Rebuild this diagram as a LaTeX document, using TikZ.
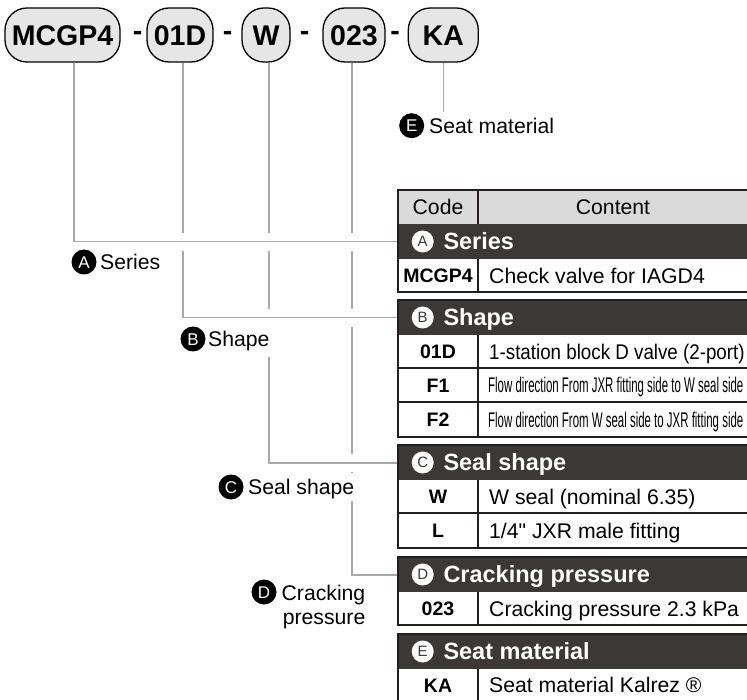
\documentclass[tikz,border=0pt]{standalone}
\usepackage{fontspec}
\setmainfont{Liberation Sans}
\newfontfamily\qfont{Liberation Sans}[Ligatures=TeXOff]
\usetikzlibrary{backgrounds}
\definecolor{connc}{HTML}{A8A8A8}
\definecolor{pillc}{HTML}{E6E6E6}
\definecolor{hdrc}{HTML}{3C3838}
\definecolor{codec}{HTML}{DADADA}
\definecolor{bordc}{HTML}{231F20}
\tikzset{
  pill/.style={draw=black, line width=1.3pt, fill=pillc, rounded corners=22pt, minimum height=54pt, inner sep=0pt, font=\fontsize{28.5}{28.5}\selectfont\bfseries, text height=20.4pt, text depth=0pt},
  sepmark/.style={inner sep=0pt, font=\fontsize{28.5}{28.5}\selectfont\bfseries, anchor=base},
  conn/.style={draw=connc, line width=1.6pt},
  halo/.style={preaction={draw=white, line width=18pt}},
  lcirc/.style={circle, fill=black, text=white, inner sep=0pt, minimum size=25pt, font=\fontsize{17}{17}\selectfont, text height=12.2pt, text depth=0pt},
  ltext/.style={inner sep=0pt, anchor=west, font=\fontsize{21.2}{24}\selectfont, text height=15.2pt, text depth=0pt},
  hcirc/.style={circle, fill=white, text=hdrc, inner sep=0pt, minimum size=22pt, font=\fontsize{15}{15}\selectfont, text height=10.7pt, text depth=0pt},
  htext/.style={inner sep=0pt, anchor=west, text=white, font=\fontsize{23.5}{23.5}\selectfont\bfseries, text height=16.8pt, text depth=0pt},
  ctext/.style={inner sep=0pt, font=\fontsize{19.5}{19.5}\selectfont\bfseries, text height=14pt, text depth=0pt},
  btext/.style={inner sep=0pt, anchor=west, font=\fontsize{21.2}{21.2}\selectfont, text height=15.2pt, text depth=0pt},
  hband/.style={fill=hdrc, inner sep=0pt, minimum width=352pt, minimum height=35pt, anchor=north west},
  outer/.style={draw=bordc, line width=2.5pt},
  rowrule/.style={draw=bordc, line width=1.2pt},
}
\begin{document}
\begin{tikzpicture}[x=1pt,y=-1pt]
\useasboundingbox (0,0) rectangle (747,700);
\clip (0,0) rectangle (747,700);

% ---------- code pills ----------
\node[pill, minimum width=115pt] (p1) at (62.5,35) {MCGP4};
\node[pill, minimum width=66pt]  (p2) at (180,35) {01D};
\node[pill, minimum width=48pt]  (p3) at (266,35) {W};
\node[pill, minimum width=62pt]  (p4) at (354,35) {023};
\node[pill, minimum width=70pt]  (p5) at (443.3,35) {KA};
\node[sepmark] (d1) at (137.5,41) {-};
\node[sepmark] (d2) at (227.5,41) {-};
\node[sepmark] (d3) at (304.5,41) {-};
\node[sepmark] (d4) at (395,41) {-};

% ---------- table ----------
% section A
\fill[codec] (398,190) rectangle (750,224);
\node[hband] (hA) at (398,224) {};
\fill[white] (398,259) rectangle (750,292);
\draw[rowrule] (478,190) -- (478,224);
\draw[rowrule] (478,259) -- (478,292);
\draw[outer] (398,190) rectangle (750,292);
\node[btext, anchor=center] (tcode) at (438,207) {Code};
\node[btext, anchor=center] (tcont) at (613,207) {Content};
\node[hcirc] (hAc) at (422.7,241.5) {A};
\node[htext] (hAt) at (443.3,241.5) {Series};
\node[ctext] (cA1) at (438,275.5) {MCGP4};
\node[btext] (tA1) at (489,275.5) {Check valve for IAGD4};

% section B
\node[hband] (hB) at (398,300) {};
\fill[white] (398,335) rectangle (750,437);
\draw[rowrule] (398,368) -- (750,368);
\draw[rowrule] (398,402) -- (750,402);
\draw[rowrule] (478,335) -- (478,437);
\draw[outer] (398,300) rectangle (750,437);
\node[hcirc] (hBc) at (422.7,317.5) {B};
\node[htext] (hBt) at (443.3,317.5) {Shape};
\node[ctext] (cB1) at (438,351.5) {01D};
\node[btext] (tB1) at (489,351.5) {\scalebox{0.885}[1]{1-station block D valve (2-port)}};
\node[ctext] (cB2) at (438,385) {F1};
\node[btext] (tB2) at (488,385) {\scalebox{0.54}[1]{Flow direction From JXR fitting side to W seal side}};
\node[ctext] (cB3) at (438,419.5) {F2};
\node[btext] (tB3) at (488,419.5) {\scalebox{0.54}[1]{Flow direction From W seal side to JXR fitting side}};

% section C
\node[hband] (hC) at (398,445) {};
\fill[white] (398,480) rectangle (750,548);
\draw[rowrule] (398,513) -- (750,513);
\draw[rowrule] (478,480) -- (478,548);
\draw[outer] (398,445) rectangle (750,548);
\node[hcirc] (hCc) at (422.7,462.5) {C};
\node[htext] (hCt) at (443.3,462.5) {Seal shape};
\node[ctext] (cC1) at (438,496.5) {W};
\node[btext] (tC1) at (489,496.5) {W seal (nominal 6.35)};
\node[ctext] (cC2) at (438,530.5) {L};
\node[btext] (tC2) at (489,530.5) {1/4{\qfont"} JXR male fitting};

% section D
\node[hband] (hD) at (398,557) {};
\fill[white] (398,592) rectangle (750,625);
\draw[rowrule] (478,592) -- (478,625);
\draw[outer] (398,557) rectangle (750,625);
\node[hcirc] (hDc) at (422.7,574.5) {D};
\node[htext] (hDt) at (443.3,574.5) {Cracking pressure};
\node[ctext] (cD1) at (438,608.5) {023};
\node[btext] (tD1) at (489,608.5) {Cracking pressure 2.3 kPa};

% section E
\node[hband] (hE) at (398,634) {};
\fill[white] (398,669) rectangle (750,703);
\draw[rowrule] (478,669) -- (478,703);
\draw[outer] (398,634) rectangle (750,703);
\node[hcirc] (hEc) at (422.7,651.5) {E};
\node[htext] (hEt) at (443.3,651.5) {Seat material};
\node[ctext] (cE1) at (438,685) {KA};
\node[btext] (tE1) at (489,685) {Seat material Kalrez ®};

% ---------- labels ----------
\node[lcirc] (lAc) at (84,262) {A};
\node[ltext] (lAt) at (100,262) {Series};
\node[lcirc] (lBc) at (193,339) {B};
\node[ltext, fill=white, inner xsep=2pt, inner ysep=10.5pt] (lBt) at (206,339) {Shape};
\node[lcirc] (lCc) at (231,487) {C};
\node[ltext, fill=white, inner xsep=2pt, inner ysep=6pt] (lCt) at (246,487) {Seal shape};
\node[lcirc] (lDc) at (264,592) {D};
\node[align=right, anchor=north east, inner sep=0pt, font=\fontsize{21.2}{24}\selectfont] (lDt) at (365.5,584.7) {Cracking\\pressure};
\node[lcirc] (lEc) at (411.7,125.7) {E};
\node[ltext] (lEt) at (429,125.7) {Seat material};
\coordinate (eEnd) at (443.3,112);

% ---------- connectors (behind everything) ----------
\begin{scope}[on background layer]
\draw[conn,halo] ([xshift=-2pt]p4.south) |- (hD.west);
\draw[conn,halo] ([xshift=3pt]p3.south) |- (hC.west);
\draw[conn,halo] ([xshift=3pt]p2.south) |- (hB.west);
\draw[conn,halo] ([xshift=11.5pt]p1.south) |- (hA.west);
\draw[conn] (p5.south) -- (eEnd);
\end{scope}
\end{tikzpicture}
\end{document}
